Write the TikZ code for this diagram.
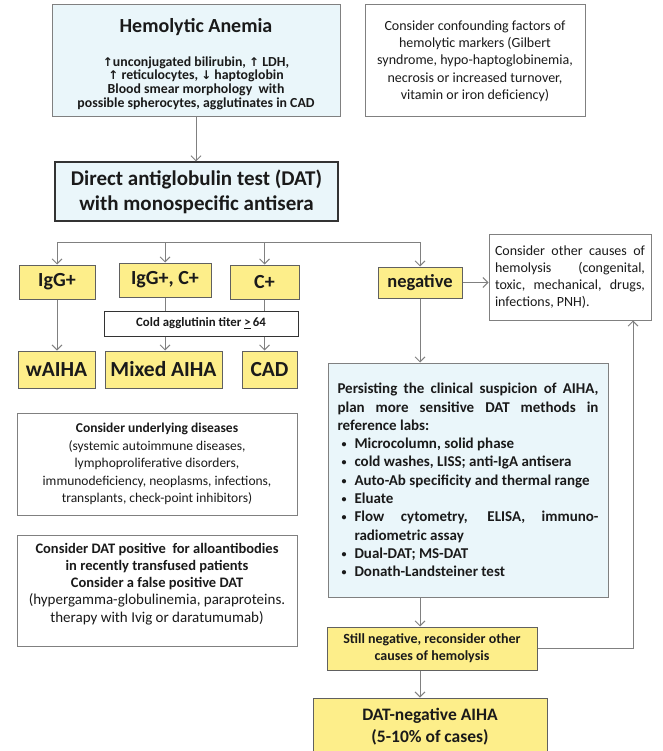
\documentclass[tikz,border=0pt]{standalone}
\usepackage{fontspec}
\setmainfont{Carlito}
\newfontfamily\arrowfont{DejaVu Sans}
\usetikzlibrary{arrows.meta}
\definecolor{chartblue}{HTML}{EAF6FA}
\definecolor{chartyellow}{HTML}{FDEE8A}
\definecolor{chartline}{HTML}{808080}
\definecolor{chartink}{HTML}{1A1A1A}
\newcommand{\uparr}{{\arrowfont\fontsize{12}{12}\selectfont ↑}}
\newcommand{\downarr}{{\arrowfont\fontsize{12}{12}\selectfont ↓}}
\newcommand{\spread}[2]{\makebox[#1][s]{#2}}
\newcommand{\bul}{\makebox[17pt][l]{\hspace{4pt}\raisebox{1pt}{\fontsize{10}{10}\selectfont•}}}
\newcommand{\tightlines}{\lineskiplimit=-20pt\relax}

\begin{document}
\begin{tikzpicture}[
    x=1pt,y=-1pt,
    box/.style={draw=chartline,line width=1pt,inner sep=0pt,align=center,text=chartink},
    bluebox/.style={box,fill=chartblue},
    yellowbox/.style={box,fill=chartyellow,draw=chartline!75!black,
      font=\bfseries\fontsize{20}{23}\selectfont},
    bigyellow/.style={yellowbox,minimum height=37pt,font=\bfseries\fontsize{21.5}{24}\selectfont},
    notebox/.style={box,fill=white,font=\fontsize{13.5}{17.5}\selectfont},
    link/.style={draw=chartline,line width=.9pt},
    flow/.style={link,-{Straight Barb[length=5pt,width=10pt]}}
  ]
  \useasboundingbox (0,0) rectangle (662,751);

  \node[bluebox,minimum width=288pt,minimum height=112pt,
    font=\bfseries\fontsize{13.8}{13.6}\selectfont\tightlines] (hemo) at (196,61)
    {\rule{0pt}{20pt}{\fontsize{20}{24}\selectfont Hemolytic Anemia}\\[20pt]
     \uparr unconjugated bilirubin, \uparr\ LDH,\\
     \uparr\ reticulocytes, \downarr\ haptoglobin\\
     Blood smear morphology\ \ with\\
     possible spherocytes, agglutinates in CAD};
  \node[notebox,minimum width=220pt,minimum height=112pt,
    font=\fontsize{14}{17.3}\selectfont] (conf) at (475,61)
    {Consider confounding factors of\\hemolytic markers (Gilbert\\
     syndrome, hypo-haptoglobinemia,\\necrosis or increased turnover,\\
     vitamin or iron deficiency)};

  \node[bluebox,minimum width=283pt,minimum height=59pt,draw=black!80,line width=1.3pt,
    font=\bfseries\fontsize{21}{25}\selectfont] (dat) at (196.5,191.5)
    {Direct antiglobulin test (DAT)\\with monospecific antisera};

  \node[yellowbox,minimum width=76pt,minimum height=34pt] (igg) at (57,282) {IgG+};
  \node[yellowbox,minimum width=92pt,minimum height=34pt] (iggc) at (165,280) {IgG+, C+};
  \node[yellowbox,minimum width=69pt,minimum height=34pt] (cp) at (264.5,282) {C+};
  \node[yellowbox,minimum width=84pt,minimum height=31pt,
    font=\bfseries\fontsize{18.5}{21}\selectfont] (neg) at (420,282.5) {negative};
  \node[notebox,minimum width=162pt,minimum height=86pt,align=left,
    font=\fontsize{14}{17}\selectfont] (other) at (570,277)
    {\spread{150pt}{Consider other causes of}\\
     \spread{150pt}{hemolysis\hfill(congenital,}\\
     \spread{150pt}{toxic, mechanical, drugs,}\\
     infections, PNH).};

  \node[box,fill=white,minimum width=194pt,minimum height=25pt,draw=black!80,
    font=\bfseries\fontsize{12.8}{14}\selectfont] (cold) at (201,323.5)
    {Cold agglutinin titer \underline{>}\,64};

  \node[bigyellow,minimum width=77pt] (waiha) at (56.5,369.5) {wAIHA};
  \node[bigyellow,minimum width=117pt] (mixed) at (163.5,369.5) {Mixed AIHA};
  \node[bigyellow,minimum width=55pt] (cad) at (269.5,369.5) {CAD};

  \node[notebox,minimum width=280pt,minimum height=102pt] (under) at (157,464)
    {\textbf{Consider underlying diseases}\\
     (systemic autoimmune diseases,\\
     lymphoproliferative disorders,\\
     immunodeficiency, neoplasms, infections,\\
     transplants, check-point inhibitors)};
  \node[notebox,minimum width=280pt,minimum height=111pt,
    font=\fontsize{15}{17.3}\selectfont] (datpos) at (157,590.5)
    {\textbf{\fontsize{14.5}{17.3}\selectfont Consider DAT positive\ \ for alloantibodies}\\
     \textbf{\fontsize{14.5}{17.3}\selectfont in recently transfused patients}\\
     \textbf{\fontsize{14.5}{17.3}\selectfont Consider a false positive DAT}\\
     (hypergamma-globulinemia, paraproteins.\\
     therapy with Ivig or daratumumab)\rule[-16pt]{0pt}{16pt}};

  \node[bluebox,minimum width=280pt,minimum height=234pt,align=left,
    font=\bfseries\fontsize{15}{18.3}\selectfont] (persist) at (468,480)
    {\spread{261pt}{Persisting the clinical suspicion of AIHA,}\\
     \spread{261pt}{plan more sensitive DAT methods in}\\
     reference labs:\\
     \bul Microcolumn, solid phase\\
     \bul cold washes, LISS; anti-IgA antisera\\
     \bul Auto-Ab specificity and thermal range\\
     \bul Eluate\\
     \bul\spread{244pt}{Flow cytometry, ELISA, immuno-}\\
     \hspace{17pt}radiometric assay\\
     \bul Dual-DAT; MS-DAT\\
     \bul Donath-Landsteiner test};

  \node[yellowbox,minimum width=210pt,minimum height=43pt,
    font=\bfseries\fontsize{14}{17}\selectfont] (still) at (432,648.5)
    {Still negative, reconsider other\\causes of hemolysis};
  \node[yellowbox,minimum width=234pt,minimum height=58pt,
    font=\bfseries\fontsize{17.5}{22}\selectfont] (datneg) at (430,727)
    {DAT-negative AIHA\\(5-10\% of cases)};

  \coordinate (forkl) at (57,242);
  \coordinate (forkr) at (420,242);

  \draw[flow] (hemo.south) -- (hemo.south |- dat.north);
  \draw[link] (forkl) -- (forkr);
  \foreach \n in {igg,iggc,cp,neg}{
    \draw[flow] (\n.north |- forkl) -- (\n.north);
  }
  \draw[flow] (igg.south) -- (igg.south |- waiha.north);
  \foreach \n/\m in {iggc/mixed,cp/cad}{
    \draw[link] (\n.south) -- (\n.south |- cold.north);
    \draw[flow] (\n.south |- cold.south) -- (\n.south |- \m.north);
  }
  \draw[flow] (neg.east) -- (neg.east -| other.west);
  \draw[flow] (neg.south) -- (neg.south |- persist.north);
  \draw[flow] (persist.south -| neg.south) -- (still.north -| neg.south);
  \draw[flow] (still.south -| neg.south) -- (datneg.north -| neg.south);
  \draw[flow] (still.east) -| ([xshift=63pt]other.south);
\end{tikzpicture}
\end{document}
